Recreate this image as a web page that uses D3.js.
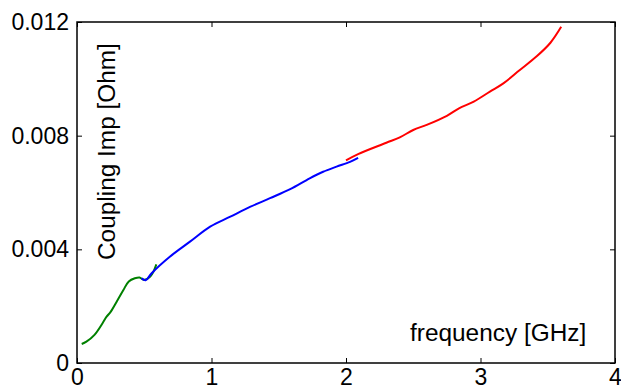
<!DOCTYPE html>
<html>
<head>
<meta charset="utf-8">
<script src="https://cdn.jsdelivr.net/npm/d3@7"></script>
<style>
  body { margin: 0; background: #fff; }
  svg text { font-family: "Liberation Sans", Arial, sans-serif; }
</style>
</head>
<body>
<div id="chart"></div>
<script>
// frequency [GHz] / coupling impedance [Ohm]
const greenFreq = [0.035, 0.07, 0.13, 0.19, 0.22, 0.25, 0.30, 0.345, 0.385, 0.43, 0.465, 0.49, 0.51, 0.545, 0.567, 0.59];
const greenImp  = [0.00067, 0.00075, 0.00099, 0.0014, 0.00163, 0.0018, 0.0022, 0.00257, 0.00287, 0.00298, 0.00301, 0.00294, 0.00294, 0.00304, 0.0032, 0.00347];

const blueFreq = [0.48, 0.51, 0.555, 0.69, 0.84, 0.99, 1.14, 1.29, 1.435, 1.585, 1.73, 1.83, 1.93, 2.03, 2.09];
const blueImp  = [0.00298, 0.00291, 0.00316, 0.00374, 0.00427, 0.0048, 0.00515, 0.0055, 0.0058, 0.00612, 0.0065, 0.00673, 0.00691, 0.00708, 0.00722];

const redFreq = [2.0, 2.09, 2.30, 2.40, 2.50, 2.60, 2.75, 2.84, 2.95, 3.07, 3.17, 3.29, 3.42, 3.52, 3.60];
const redImp  = [0.00713, 0.00735, 0.00775, 0.00794, 0.0082, 0.00838, 0.0087, 0.00896, 0.0092, 0.00955, 0.00984, 0.0103, 0.0108, 0.01127, 0.01183];

const xTicks = [0, 1, 2, 3, 4];
const yTicks = [0, 0.004, 0.008, 0.012];
const yTickLabels = ['0', '0.004', '0.008', '0.012'];

const width = 621, height = 388;
const margin = { top: 22, right: 6, bottom: 25, left: 77 };
const innerW = width - margin.left - margin.right;
const innerH = height - margin.top - margin.bottom;

const svg = d3.select('#chart').append('svg')
  .attr('width', width)
  .attr('height', height);

const g = svg.append('g')
  .attr('transform', `translate(${margin.left},${margin.top})`);

const x = d3.scaleLinear().domain([0, 4]).range([0, innerW]);
const y = d3.scaleLinear().domain([0, 0.012]).range([innerH, 0]);

// box
g.append('rect')
  .attr('width', innerW).attr('height', innerH)
  .attr('fill', 'none').attr('stroke', '#000').attr('stroke-width', 1.5);

// inward ticks on all four sides
const tickFont = 23, labelFont = 24.4;
const xAxis = g.append('g').attr('transform', `translate(0,${innerH})`)
  .call(d3.axisBottom(x).tickValues(xTicks).tickSizeInner(-5).tickSizeOuter(0).tickFormat(d3.format('d')));
const xAxisTop = g.append('g')
  .call(d3.axisTop(x).tickValues(xTicks).tickSizeInner(-5).tickSizeOuter(0).tickFormat(''));
const yAxis = g.append('g')
  .call(d3.axisLeft(y).tickValues(yTicks).tickSizeInner(-5).tickSizeOuter(0).tickPadding(8).tickFormat((d, i) => yTickLabels[i]));
const yAxisRight = g.append('g').attr('transform', `translate(${innerW},0)`)
  .call(d3.axisRight(y).tickValues(yTicks).tickSizeInner(-5).tickSizeOuter(0).tickFormat(''));

[xAxis, xAxisTop, yAxis, yAxisRight].forEach(a => {
  a.select('.domain').remove();
  a.selectAll('line').attr('stroke', '#000');
  a.selectAll('text').attr('font-size', tickFont).attr('fill', '#000')
    .style('font-family', '"Liberation Sans", Arial, sans-serif');
});
xAxis.selectAll('text').attr('y', 22).attr('dy', 0);

// curves
const line = d3.line().x(d => x(d[0])).y(d => y(d[1])).curve(d3.curveCatmullRom);
const series = [
  { f: greenFreq, v: greenImp, color: '#008000' },
  { f: blueFreq, v: blueImp, color: '#0000ff' },
  { f: redFreq, v: redImp, color: '#ff0000' }
];
series.forEach(s => {
  g.append('path')
    .datum(s.f.map((f, i) => [f, s.v[i]]))
    .attr('fill', 'none')
    .attr('stroke', s.color)
    .attr('stroke-width', 2)
    .attr('d', line);
});

// labels inside the box
svg.append('text')
  .attr('transform', 'translate(115,260) rotate(-90)')
  .attr('font-size', labelFont)
  .text('Coupling Imp [Ohm]');

svg.append('text')
  .attr('x', 410).attr('y', 341)
  .attr('font-size', labelFont)
  .text('frequency [GHz]');
</script>
</body>
</html>
